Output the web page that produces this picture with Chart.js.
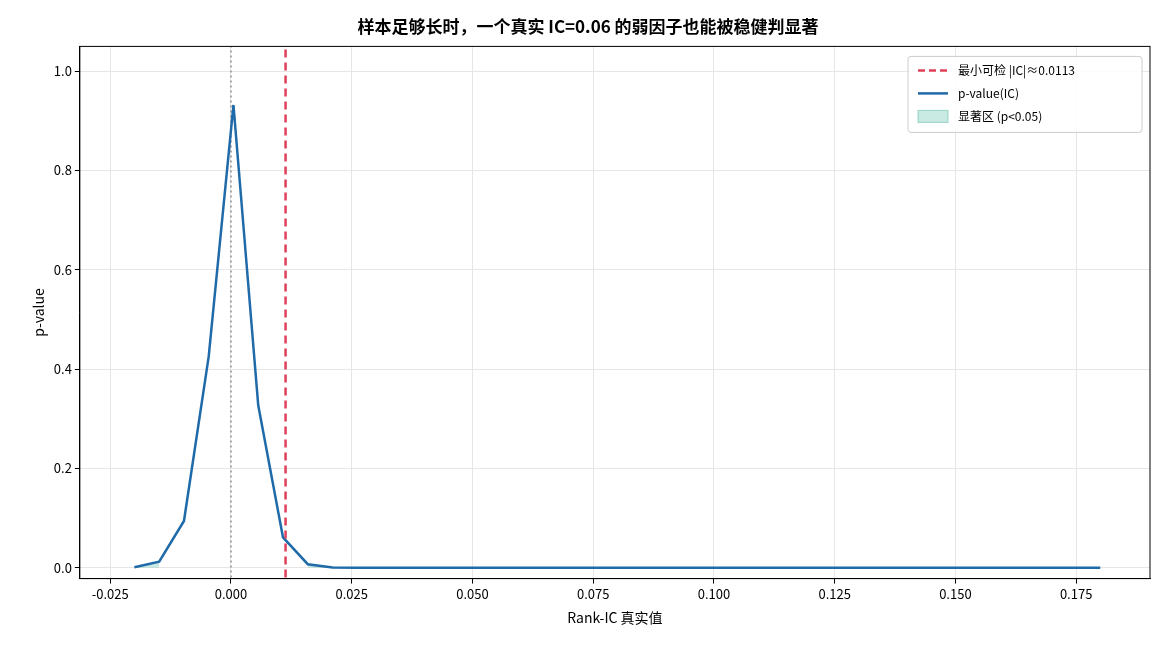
<!DOCTYPE html>
<html><head><meta charset="utf-8">
<script src="https://cdn.jsdelivr.net/npm/chart.js@4/dist/chart.umd.min.js"></script>
<style>body{margin:0;background:#fff}#w{width:1170px;height:650px}</style>
</head><body><div id="w"><canvas id="c"></canvas></div>
<script>
const icValues = [];
for (let i = 0; i < 40; i++) icValues.push(+(-0.02 + i * 0.2 / 39).toFixed(5));
const pValues = [0.001,0.012,0.094,0.425,0.932,0.327,0.061,0.007,0.0005,0,0,0,0,0,0,0,0,0,0,0,0,0,0,0,0,0,0,0,0,0,0,0,0,0,0,0,0,0,0,0];
const minDetectIC = 0.0113;
const yTicks = [0,0.2,0.4,0.6,0.8,1.0];
const xTicks = [-0.025,0,0.025,0.05,0.075,0.1,0.125,0.15,0.175];
const legendLabels = ['最小可检 |IC|≈0.0113','p-value(IC)','显著区 (p<0.05)'];

const F = "'Noto Sans CJK SC','Noto Sans',sans-serif";
const line = icValues.map((x,i)=>({x, y:pValues[i]}));
const sig = icValues.map((x,i)=>({x, y:pValues[i] < 0.05 ? pValues[i] : null}));
const box = {id:'box',afterDraw(c){const a=c.chartArea,g=c.ctx;g.save();g.strokeStyle='#000';g.lineWidth=1;g.strokeRect(a.left,a.top,a.right-a.left,a.bottom-a.top);
  // legend
  const x0=a.right-242,y0=a.top+10,w=234,h=76;
  g.fillStyle='rgba(255,255,255,0.85)';g.strokeStyle='#ccc';g.lineWidth=1;
  g.beginPath();g.roundRect(x0,y0,w,h,3);g.fill();g.stroke();
  g.font='12px '+F;g.fillStyle='#000';g.textBaseline='middle';
  const rows=[y0+14,y0+37,y0+60];
  g.setLineDash([7,4]);g.strokeStyle='#e0405a';g.lineWidth=2.5;g.beginPath();g.moveTo(x0+10,rows[0]);g.lineTo(x0+40,rows[0]);g.stroke();
  g.setLineDash([]);g.strokeStyle='#1f6aa8';g.beginPath();g.moveTo(x0+10,rows[1]);g.lineTo(x0+40,rows[1]);g.stroke();
  g.fillStyle='rgba(120,200,185,0.4)';g.fillRect(x0+10,rows[2]-6,30,12);g.strokeStyle='rgba(100,190,170,0.6)';g.lineWidth=1;g.strokeRect(x0+10,rows[2]-6,30,12);
  g.fillStyle='#000';legendLabels.forEach((t,i)=>g.fillText(t,x0+50,rows[i]));
  g.restore();}};
new Chart(document.getElementById('c'),{
  type:'line',
  data:{datasets:[
    {label:legendLabels[0],data:[{x:minDetectIC,y:-0.02},{x:minDetectIC,y:1.05}],borderColor:'#e0405a',borderDash:[8,5],borderWidth:2.5,pointRadius:0,order:1},
    {label:legendLabels[1],data:line,borderColor:'#1f6aa8',borderWidth:2.5,pointRadius:0,tension:0,order:2},
    {label:legendLabels[2],data:sig,borderColor:'rgba(100,190,170,0.5)',backgroundColor:'rgba(120,200,185,0.4)',borderWidth:1,fill:'origin',pointRadius:0,spanGaps:false,order:3},
    {label:'zero',data:[{x:0,y:-0.02},{x:0,y:1.05}],borderColor:'#777',borderDash:[2,3],borderWidth:1.2,pointRadius:0,order:4}
  ]},
  options:{responsive:true,maintainAspectRatio:false,animation:false,
    layout:{padding:{left:26,right:20,top:10,bottom:20}},
    plugins:{
      title:{display:true,text:'样本足够长时，一个真实 IC=0.06 的弱因子也能被稳健判显著',font:{family:F,size:17,weight:'bold'},color:'#000',padding:{top:6,bottom:10}},
      legend:{display:false},
      tooltip:{enabled:false}
    },
    scales:{
      x:{type:'linear',min:-0.0313,max:0.1903,afterBuildTicks(s){s.ticks=xTicks.map(v=>({value:v}));},
        ticks:{font:{family:F,size:13},color:'#000',callback:v=>v.toFixed(3)},
        grid:{color:'#e6e6e6',drawTicks:true,tickColor:'#000',tickLength:5},border:{color:'#000'},
        title:{display:true,text:'Rank-IC 真实值',font:{family:F,size:14},color:'#000'}},
      y:{min:-0.022,max:1.05,afterBuildTicks(s){s.ticks=yTicks.map(v=>({value:v}));},
        ticks:{font:{family:F,size:13},color:'#000',callback:v=>v.toFixed(1)},
        grid:{color:'#e6e6e6',tickColor:'#000',tickLength:5},border:{color:'#000'},
        title:{display:true,text:'p-value',font:{family:F,size:14},color:'#000'}}
    }},
  plugins:[box]
});
</script></body></html>
